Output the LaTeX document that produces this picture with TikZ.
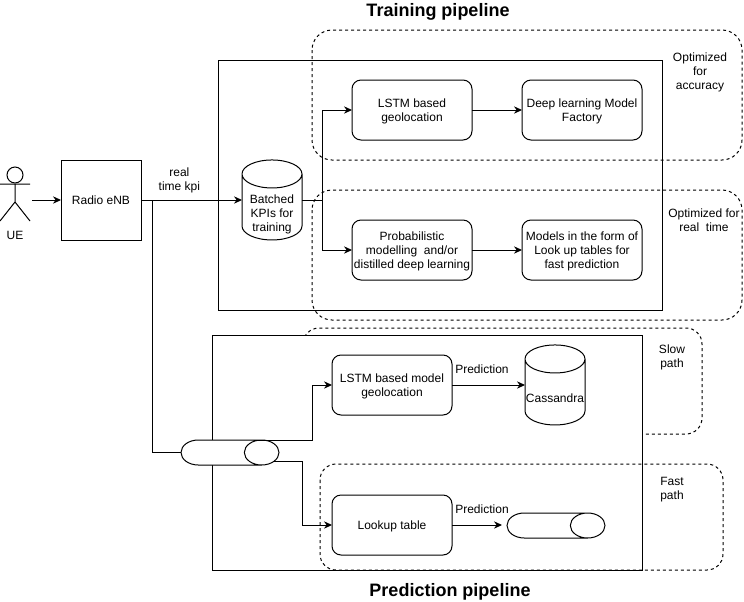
\documentclass[tikz,border=0pt]{standalone}
\usepackage{fontspec}
\setmainfont{Liberation Sans}
\usetikzlibrary{positioning,calc,shapes.geometric,arrows.meta}
\tikzset{
  flow/.style={-{Stealth[length=6pt,width=5.5pt]},line width=.75pt},
  wire/.style={line width=.75pt},
  txt/.style={align=center,inner sep=0pt,text depth=0pt,font=\fontsize{9}{10.5}\selectfont},
  stepnode/.style={txt,draw,line width=.75pt,rounded corners=6.75pt,outer sep=0pt,fill=white,
    minimum width=90pt,minimum height=45pt},
  zone/.style={draw,line width=.75pt,dash pattern=on 2.25pt off 2.25pt,rounded corners=#1},
  store/.style={txt,outer sep=0pt,minimum width=45pt,minimum height=40pt,
    append after command={\pgfextra{
      \draw [line width=.75pt]
        ($(\tikzlastnode.north west)+(0,9.5pt)$) arc [start angle=180,end angle=0,x radius=22.5pt,y radius=10.5pt]
        -- ($(\tikzlastnode.south east)+(0,10.5pt)$) arc [start angle=0,end angle=-180,x radius=22.5pt,y radius=10.5pt]
        -- cycle
        ($(\tikzlastnode.north west)+(0,9.5pt)$) arc [start angle=180,end angle=360,x radius=22.5pt,y radius=10.5pt];
    }}},
  queue/.style={draw,line width=.75pt,cylinder,shape border rotate=0,aspect=3.9,outer sep=0pt,
    minimum width=18.75pt,minimum height=73.5pt,fill=white,anchor=shape center},
  title/.style={inner sep=0pt,text depth=0pt,font=\fontsize{13.5}{15}\selectfont\bfseries}
}
\begin{document}
\begin{tikzpicture}[x=.75pt,y=-.75pt,node distance=37.5pt]
  \useasboundingbox (0,0) rectangle (744,601);

  % pipeline frames
  \node [title] (trainhead) at (438,10) {Training pipeline};
  \draw [line width=.75pt] (218,60) rectangle (662,310);
  \draw [zone=15pt] (312,30) rectangle (742,160);
  \draw [zone=15pt] (312,190) rectangle (742,320);
  \draw [zone=12pt] (303,328) rectangle (702,434);
  \draw [line width=.75pt,fill=white] (212,335) rectangle (642,570);
  \draw [zone=12pt] (320,464) rectangle (723,570);
  \node [title] (predhead) at (450,590) {Prediction pipeline};

  % UE
  \node [circle,draw,line width=.75pt,minimum size=12pt,inner sep=0pt] (uehead) at (15,175) {};
  \coordinate (uehip) at (15,202);
  \draw [wire] (uehead) -- (uehip) -- (0,221) (uehip) -- (30,221) (0,184) -- (30,184);
  \node [txt] (ue) at (15,235) {UE};
  \coordinate (uehand) at (32,200);

  % training
  \node [txt,draw,line width=.75pt,outer sep=0pt,minimum width=60pt,minimum height=60pt] (enb) at (101,200) {Radio eNB};
  \node [store] (batched) at (272,213.3) {Batched\\KPIs for\\training};
  \node [stepnode] (lstm) at (412,110) {LSTM based\\geolocation};
  \node [stepnode,right=of lstm] (factory) {Deep learning Model\\Factory};
  \node [stepnode,below=60pt of lstm] (prob) {Probabilistic\\modelling\ \ and/or\\distilled deep learning};
  \node [stepnode,right=of prob] (lut) {Models in the form of\\Look up tables for\\fast prediction};
  \coordinate (split) at (322,200);
  \coordinate (tap) at (152,200);

  \draw [flow] (uehand) -- (enb);
  \draw [flow] (enb) -- node[txt,above=7pt,pos=.38] {real\\time kpi} (batched.west |- enb);
  \draw [wire] (batched.east |- split) -- (split);
  \draw [flow] (split) |- (lstm);
  \draw [flow] (split) |- (prob);
  \draw [flow] (lstm) -- (factory);
  \draw [flow] (prob) -- (lut);

  % prediction
  \node [stepnode] (lstmmodel) at (392,385) {LSTM based model\\geolocation};
  \node [stepnode,below=60pt of lstmmodel] (lookup) {Lookup table};
  \node [store] (cassandra) at (555,398.3) {Cassandra};
  \node [queue] (inq) at (230,452.5) {};
  \node [queue] (outq) at (556,525.5) {};
  \coordinate (upbend) at (312,385);
  \coordinate (lowbend) at (302,525);
  \coordinate (outend) at (502,525);

  \draw [wire] (tap) |- (inq.west);
  \draw [flow] (inq.16) -| (upbend) -- (lstmmodel);
  \draw [flow] (inq.-9) -| (lowbend) -- (lookup);
  \draw [flow] (lstmmodel) -- node[txt,above=8pt,pos=.41] {Prediction} (cassandra.west |- lstmmodel);
  \draw [flow] (lookup) -- node[txt,above=8pt,pos=.6] {Prediction} (outend);

  % side notes
  \node [txt] (accnote) at (700,71) {Optimized\\for\\accuracy};
  \node [txt] (rtnote) at (704,220) {Optimized for\\real\ \ time};
  \node [txt] (slownote) at (672,356) {Slow\\path};
  \node [txt] (fastnote) at (672,488) {Fast\\path};
\end{tikzpicture}
\end{document}
